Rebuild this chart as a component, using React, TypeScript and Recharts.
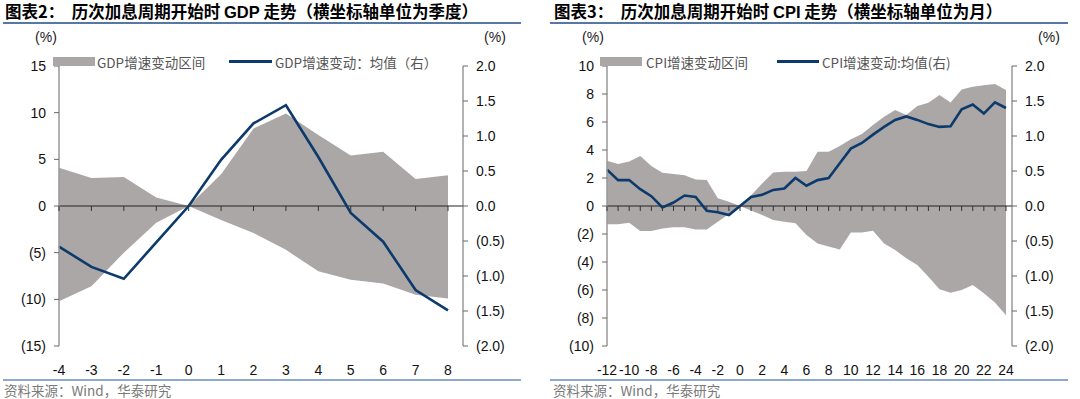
import React from "react";
import {
  ComposedChart,
  Area,
  Line,
  XAxis,
  YAxis,
  ReferenceLine,
} from "recharts";

// ---------- GDP chart data (quarters) ----------
const gdpQuarters = [-4, -3, -2, -1, 0, 1, 2, 3, 4, 5, 6, 7, 8];
const gdpBandHigh = [4.1, 3.0, 3.1, 0.9, 0, 3.4, 8.3, 9.9, 7.6, 5.4, 5.8, 2.9, 3.3];
const gdpBandLow = [-10.2, -8.6, -5.0, -1.8, 0, -1.5, -2.9, -4.7, -7.0, -7.9, -8.3, -9.5, -9.9];
const gdpMean = [-0.58, -0.87, -1.04, -0.52, 0, 0.66, 1.18, 1.44, 0.7, -0.1, -0.51, -1.2, -1.49];
const gdpLeftTicks = [-15, -10, -5, 0, 5, 10, 15];
const gdpXTicks = [-4, -3, -2, -1, 0, 1, 2, 3, 4, 5, 6, 7, 8];

// ---------- CPI chart data (months) ----------
const cpiMonths = [
  -12, -11, -10, -9, -8, -7, -6, -5, -4, -3, -2, -1, 0, 1, 2, 3, 4, 5, 6, 7, 8, 9,
  10, 11, 12, 13, 14, 15, 16, 17, 18, 19, 20, 21, 22, 23, 24,
];
const cpiBandHigh = [
  3.24, 3.0, 3.17, 3.57, 2.86, 2.38, 2.29, 2.19, 1.9, 1.86, 0.55, 0.31, 0, 0.76,
  1.6, 2.4, 2.45, 2.45, 2.5, 3.88, 3.88, 4.29, 4.76, 5.14, 5.79, 6.38, 6.86, 6.5,
  7.14, 7.38, 7.93, 7.4, 8.33, 8.52, 8.62, 8.71, 8.29,
];
const cpiBandLow = [
  -1.31, -1.31, -1.19, -1.79, -1.79, -1.6, -1.52, -1.52, -1.67, -1.67, -1.12,
  -0.57, 0, -0.33, -0.64, -1.0, -1.12, -1.24, -2.07, -2.67, -2.9, -3.1, -1.9, -1.9,
  -1.76, -2.67, -3.14, -3.74, -4.21, -5.05, -5.95, -6.19, -6.0, -5.64, -6.24,
  -6.9, -7.8,
];
const cpiMean = [
  0.52, 0.37, 0.37, 0.24, 0.14, -0.02, 0.05, 0.15, 0.13, -0.07, -0.09, -0.13, 0,
  0.13, 0.16, 0.23, 0.25, 0.4, 0.29, 0.37, 0.4, 0.61, 0.82, 0.9, 1.02, 1.13, 1.23,
  1.28, 1.23, 1.17, 1.13, 1.14, 1.38, 1.45, 1.32, 1.48, 1.4,
];
const cpiLeftTicks = [-10, -8, -6, -4, -2, 0, 2, 4, 6, 8, 10];
const cpiXTicks = [-12, -10, -8, -6, -4, -2, 0, 2, 4, 6, 8, 10, 12, 14, 16, 18, 20, 22, 24];

const rightTicks = [-2, -1.5, -1, -0.5, 0, 0.5, 1, 1.5, 2];

const BAND = "#aba7a7";
const NAVY = "#0c3a6c";
const CJK = '"Noto Sans CJK SC", "Liberation Sans", sans-serif';
const LAT = '"Liberation Sans", Arial, sans-serif';

const fmtInt = (v: number) => (v < 0 ? `(${-v})` : `${v}`);
const fmtDec = (v: number) => (v < 0 ? `(${(-v).toFixed(1)})` : v.toFixed(1));

const zeroTick = (props: any) => {
  const { cx, cy, index } = props;
  if (cx == null || cy == null) return <g key={`zt-${index}`} />;
  return (
    <line
      key={`zt-${index}`}
      x1={cx}
      y1={cy}
      x2={cx}
      y2={cy + 5}
      stroke="#333"
      strokeWidth={1}
    />
  );
};

type PanelProps = {
  offsetX: number;
  title: React.ReactNode;
  xs: number[];
  high: number[];
  low: number[];
  mean: number[];
  leftTicks: number[];
  leftDomain: [number, number];
  xTicks: number[];
  xDomain: [number, number];
  leftW: number;
  rightW: number;
  padRight: number;
  bandLabel: string;
  meanLabel: string;
  legend: { swX: number; txX: number; lnX: number; lnW: number; ltX: number };
  unitL: number;
  unitR: number;
  ruleX: number;
  ruleW: number;
  textX: number;
};

function Panel(p: PanelProps) {
  const data = p.xs.map((x, i) => ({
    x,
    band: [p.low[i], p.high[i]],
    mean: p.mean[i],
    zero: 0,
  }));
  return (
    <div style={{ position: "absolute", left: p.offsetX, top: 0, width: 540, height: 399 }}>
      {/* title */}
      <div
        style={{
          position: "absolute",
          left: p.textX,
          top: 0,
          fontFamily: CJK,
          fontWeight: 700,
          fontSize: 16.5,
          color: "#000",
          whiteSpace: "nowrap",
          lineHeight: "23px",
        }}
      >
        {p.title}
      </div>
      <div
        style={{
          position: "absolute",
          left: p.ruleX,
          top: 22,
          width: p.ruleW,
          height: 2,
          background: "#5877a4",
        }}
      />
      {/* units */}
      <div
        style={{
          position: "absolute",
          left: p.unitL - 20,
          width: 40,
          textAlign: "center",
          top: 29,
          fontFamily: LAT,
          fontSize: 14,
          color: "#222",
        }}
      >
        (%)
      </div>
      <div
        style={{
          position: "absolute",
          left: p.unitR - 20,
          width: 40,
          textAlign: "center",
          top: 29,
          fontFamily: LAT,
          fontSize: 14,
          color: "#222",
        }}
      >
        (%)
      </div>

      <ComposedChart
        width={540}
        height={399}
        data={data}
        margin={{ top: 66, right: 0, bottom: 23, left: 0 }}
      >
        <XAxis
          dataKey="x"
          type="number"
          domain={p.xDomain}
          ticks={p.xTicks}
          interval={0}
          padding={{ left: 0, right: p.padRight }}
          axisLine={false}
          tickLine={false}
          tickMargin={13}
          height={30}
          tick={{ fontFamily: LAT, fontSize: 14, fill: "#111" }}
        />
        <YAxis
          yAxisId="left"
          orientation="left"
          domain={p.leftDomain}
          ticks={p.leftTicks}
          interval={0}
          width={p.leftW}
          tickFormatter={fmtInt}
          axisLine={{ stroke: "#999", strokeWidth: 1.5 }}
          tickLine={{ stroke: "#666" }}
          tickSize={5}
          tickMargin={8}
          allowDataOverflow
          tick={{ fontFamily: LAT, fontSize: 14, fill: "#111" }}
        />
        <YAxis
          yAxisId="right"
          orientation="right"
          domain={[-2, 2]}
          ticks={rightTicks}
          interval={0}
          width={p.rightW}
          tickFormatter={fmtDec}
          axisLine={{ stroke: "#666", strokeWidth: 1 }}
          tickLine={{ stroke: "#666" }}
          tickSize={5}
          tickMargin={8}
          allowDataOverflow
          tick={{ fontFamily: LAT, fontSize: 14, fill: "#111" }}
        />
        <Area
          yAxisId="left"
          dataKey="band"
          type="linear"
          fill={BAND}
          fillOpacity={1}
          stroke="none"
          isAnimationActive={false}
          activeDot={false}
        />
        <ReferenceLine yAxisId="left" y={0} stroke="#222" strokeWidth={1} />
        <Line
          yAxisId="left"
          dataKey="zero"
          stroke="none"
          dot={zeroTick}
          activeDot={false}
          isAnimationActive={false}
        />
        <Line
          yAxisId="right"
          dataKey="mean"
          type="linear"
          stroke={NAVY}
          strokeWidth={2.6}
          dot={false}
          activeDot={false}
          isAnimationActive={false}
        />
      </ComposedChart>

      {/* legend */}
      <div
        style={{
          position: "absolute",
          left: p.legend.swX,
          top: 57,
          width: 42,
          height: 9,
          background: BAND,
        }}
      />
      <div
        style={{
          position: "absolute",
          left: p.legend.txX,
          top: 53,
          fontFamily: CJK,
          fontSize: 13.5,
          color: "#555",
          whiteSpace: "nowrap",
          lineHeight: "18px",
        }}
      >
        {p.bandLabel}
      </div>
      <div
        style={{
          position: "absolute",
          left: p.legend.lnX,
          top: 60,
          width: p.legend.lnW,
          height: 3,
          background: NAVY,
        }}
      />
      <div
        style={{
          position: "absolute",
          left: p.legend.ltX,
          top: 53,
          fontFamily: CJK,
          fontSize: 13.5,
          color: "#555",
          whiteSpace: "nowrap",
          lineHeight: "18px",
        }}
      >
        {p.meanLabel}
      </div>

      {/* footer */}
      <div
        style={{
          position: "absolute",
          left: p.ruleX,
          top: 379,
          width: p.ruleW,
          height: 2,
          background: "#8ea9cf",
        }}
      />
      <div
        style={{
          position: "absolute",
          left: p.textX - 1,
          top: 382,
          fontFamily: CJK,
          fontSize: 13.5,
          color: "#7a7a7a",
          whiteSpace: "nowrap",
          lineHeight: "16px",
        }}
      >
        资料来源：Wind，华泰研究
      </div>
    </div>
  );
}

export default function App() {
  return (
    <div
      style={{
        position: "absolute",
        left: 0,
        top: 0,
        width: 1080,
        height: 399,
        background: "#fff",
        overflow: "hidden",
      }}
    >
      <Panel
        offsetX={0}
        title={
          <span>
            图表2：&nbsp;&nbsp;历次加息周期开始时 <span style={{ fontFamily: LAT }}>GDP</span> 走势（横坐标轴单位为季度）
          </span>
        }
        xs={gdpQuarters}
        high={gdpBandHigh}
        low={gdpBandLow}
        mean={gdpMean}
        leftTicks={gdpLeftTicks}
        leftDomain={[-15, 15]}
        xTicks={gdpXTicks}
        xDomain={[-4, 8]}
        leftW={59}
        rightW={77}
        padRight={15}
        bandLabel="GDP增速变动区间"
        meanLabel="GDP增速变动：均值（右）"
        legend={{ swX: 53, txX: 97, lnX: 229, lnW: 43, ltX: 275 }}
        unitL={46}
        unitR={495}
        ruleX={3}
        ruleW={518}
        textX={5}
      />
      <Panel
        offsetX={540}
        title={
          <span>
            图表3：&nbsp;&nbsp;历次加息周期开始时 <span style={{ fontFamily: LAT }}>CPI</span> 走势（横坐标轴单位为月）
          </span>
        }
        xs={cpiMonths}
        high={cpiBandHigh}
        low={cpiBandLow}
        mean={cpiMean}
        leftTicks={cpiLeftTicks}
        leftDomain={[-10, 10]}
        xTicks={cpiXTicks}
        xDomain={[-12, 24]}
        leftW={67}
        rightW={68}
        padRight={6}
        bandLabel="CPI增速变动区间"
        meanLabel="CPI增速变动:均值(右)"
        legend={{ swX: 60, txX: 106, lnX: 237, lnW: 42, ltX: 282 }}
        unitL={53}
        unitR={509}
        ruleX={10}
        ruleW={518}
        textX={14}
      />
    </div>
  );
}
